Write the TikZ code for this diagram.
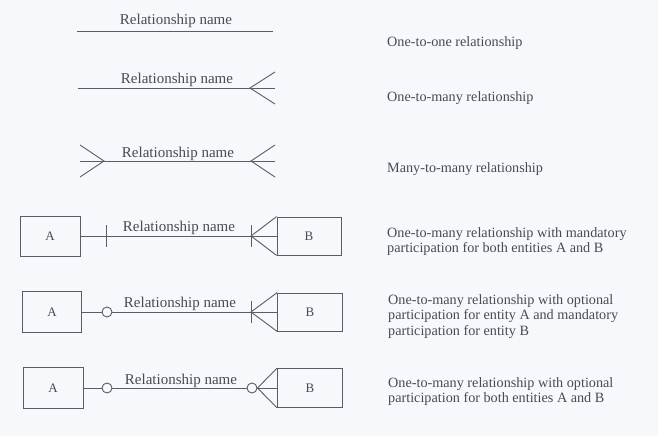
\documentclass[tikz,border=0pt]{standalone}
\usepackage{fontspec}
\setmainfont{Liberation Serif}
\definecolor{ink}{HTML}{5C5C64}
\definecolor{txt}{HTML}{4A4A54}
\definecolor{paper}{HTML}{F6F8FB}

\begin{document}
\begin{tikzpicture}[x=1pt,y=-1pt,
  rel/.style={draw=ink,line width=0.9pt},
  ent/.style={draw=ink,line width=0.8pt,inner sep=0pt,
    font=\fontsize{13}{13}\selectfont,text=txt},
  lbl/.style={font=\fontsize{15}{15}\selectfont,text=txt,anchor=base,inner sep=0pt},
  note/.style={font=\fontsize{14.2}{15.7}\selectfont,text=txt,anchor=north west,
    align=left,inner sep=0pt},
  ring/.style={circle,draw=ink,fill=paper,line width=0.9pt,minimum size=10pt,inner sep=0pt}]

\fill[paper] (0,0) rectangle (658,436);
\useasboundingbox (0,0) rectangle (658,436);

% one-to-one
\coordinate (p1l) at (77,31);
\coordinate (p1r) at (273,31);
\draw[rel] (p1l) -- (p1r);
\node[lbl] (t1) at (176,25) {Relationship name};
\node[note] (n1) at (387,36) {One-to-one relationship};

% one-to-many
\coordinate (p2l) at (78,88);
\coordinate (p2r) at (275,88);
\coordinate (p2a) at (250,88);
\coordinate (p2u) at (275,72);
\coordinate (p2d) at (275,104);
\draw[rel] (p2l) -- (p2r);
\draw[rel] (p2u) -- (p2a) -- (p2d);
\node[lbl] (t2) at (177,83) {Relationship name};
\node[note] (n2) at (387,91) {One-to-many relationship};

% many-to-many
\coordinate (p3l) at (80,161);
\coordinate (p3r) at (275,161);
\coordinate (p3la) at (104,161);
\coordinate (p3lu) at (80,145);
\coordinate (p3ld) at (80,177);
\coordinate (p3ra) at (251,161);
\coordinate (p3ru) at (275,145);
\coordinate (p3rd) at (275,177);
\draw[rel] (p3l) -- (p3r);
\draw[rel] (p3lu) -- (p3la) -- (p3ld);
\draw[rel] (p3ru) -- (p3ra) -- (p3rd);
\node[lbl] (t3) at (178,157) {Relationship name};
\node[note] (n3) at (387,162) {Many-to-many relationship};

% one-to-many, mandatory on both sides
\node[ent,minimum width=60pt,minimum height=40pt] (a4) at (50,236) {A};
\node[ent,minimum width=64pt,minimum height=38pt] (b4) at (309,236) {B};
\coordinate (c4) at (251,236);
\draw[rel] (a4.east) -- (b4.west);
\draw[rel] (b4.north west) -- (c4) -- (b4.south west);
\draw[rel] (106,225) -- (106,247);
\draw[rel] (251,225) -- (251,247);
\node[lbl] (t4) at (179,231) {Relationship name};
\node[note] (n4) at (387,227) {One-to-many relationship with mandatory\\participation for both entities A and B};

% one-to-many, optional for A, mandatory for B
\node[ent,minimum width=59pt,minimum height=41pt] (a5) at (52,312) {A};
\node[ent,minimum width=65pt,minimum height=38pt] (b5) at (310,312) {B};
\coordinate (c5) at (251,312);
\draw[rel] (a5.east) -- (b5.west);
\draw[rel] (b5.north west) -- (c5) -- (b5.south west);
\draw[rel] (251,301) -- (251,323);
\node[ring] (o5) at (107,312) {};
\node[lbl] (t5) at (180,307) {Relationship name};
\node[note] (n5) at (388,294) {One-to-many relationship with optional\\participation for entity A and mandatory\\participation for entity B};

% one-to-many, optional on both sides
\node[ent,minimum width=60pt,minimum height=41pt] (a6) at (53,388) {A};
\node[ent,minimum width=65pt,minimum height=39pt] (b6) at (310,388) {B};
\node[ring] (o6a) at (107,388) {};
\node[ring] (o6b) at (252,388) {};
\draw[rel] (a6.east) -- (o6a.west);
\draw[rel] (o6a.east) -- (o6b.west);
\draw[rel] (o6b.east) -- (b6.west);
\draw[rel] (b6.north west) -- (o6b.east) -- (b6.south west);
\node[lbl] (t6) at (181,384) {Relationship name};
\node[note] (n6) at (388,377) {One-to-many relationship with optional\\participation for both entities A and B};
\end{tikzpicture}
\end{document}
